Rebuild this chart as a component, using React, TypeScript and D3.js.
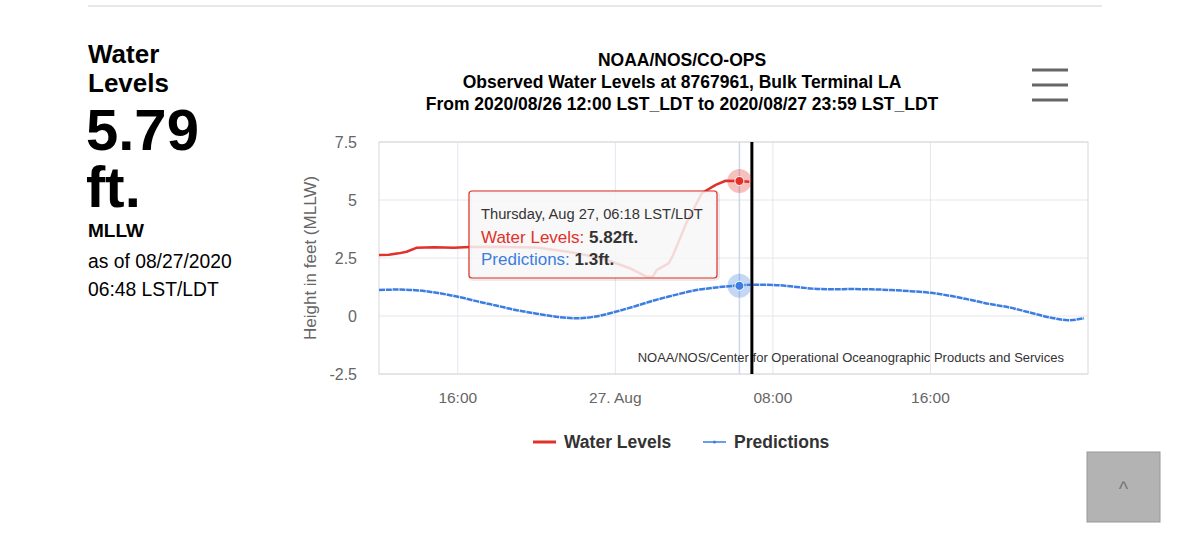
import React from "react";
import * as d3 from "d3";

const parse = d3.timeParse("%Y-%m-%d %H:%M");

// Observed water levels (ft, MLLW)
const wlTimes = [
  "2020-08-26 12:00", "2020-08-26 12:30", "2020-08-26 13:00", "2020-08-26 13:24",
  "2020-08-26 13:54", "2020-08-26 14:48", "2020-08-26 15:48", "2020-08-26 16:36",
  "2020-08-26 18:06", "2020-08-26 20:00", "2020-08-26 21:36", "2020-08-26 23:18",
  "2020-08-27 00:42", "2020-08-27 01:36", "2020-08-27 01:54", "2020-08-27 02:06",
  "2020-08-27 02:42", "2020-08-27 02:54", "2020-08-27 03:36", "2020-08-27 04:24",
  "2020-08-27 05:06", "2020-08-27 05:36", "2020-08-27 06:18", "2020-08-27 06:48",
];
const wlValues = [
  2.63, 2.64, 2.7, 2.77,
  2.94, 2.96, 2.94, 2.97,
  2.98, 2.95, 2.77, 2.5,
  2.07, 1.69, 1.7, 1.98,
  2.27, 2.56, 4.0, 5.3,
  5.65, 5.83, 5.82, 5.79,
];

// Predictions (ft, MLLW)
const predTimes = [
  "2020-08-26 12:00", "2020-08-26 13:00", "2020-08-26 14:00", "2020-08-26 15:00",
  "2020-08-26 16:00", "2020-08-26 17:00", "2020-08-26 18:00", "2020-08-26 19:00",
  "2020-08-26 20:00", "2020-08-26 21:00", "2020-08-26 22:00", "2020-08-26 23:00",
  "2020-08-27 00:00", "2020-08-27 01:00", "2020-08-27 02:00", "2020-08-27 03:00",
  "2020-08-27 04:00", "2020-08-27 05:00", "2020-08-27 06:00", "2020-08-27 07:00",
  "2020-08-27 08:00", "2020-08-27 09:00", "2020-08-27 10:00", "2020-08-27 11:00",
  "2020-08-27 12:00", "2020-08-27 13:00", "2020-08-27 14:00", "2020-08-27 15:00",
  "2020-08-27 16:00", "2020-08-27 17:00", "2020-08-27 18:00", "2020-08-27 19:00",
  "2020-08-27 20:00", "2020-08-27 21:00", "2020-08-27 22:00", "2020-08-27 23:00",
  "2020-08-27 23:48",
];
const predValues = [
  1.12, 1.14, 1.1, 0.99,
  0.83, 0.63, 0.44, 0.25,
  0.1, -0.03, -0.1, -0.02,
  0.18, 0.42, 0.68, 0.9,
  1.1, 1.22, 1.3, 1.35,
  1.34, 1.27, 1.18, 1.15,
  1.16, 1.15, 1.12, 1.07,
  1.0, 0.87, 0.7, 0.52,
  0.37, 0.16, -0.05, -0.18,
  -0.1,
];

const yTicks = [-2.5, 0, 2.5, 5, 7.5];
const yTickLabels = ["-2.5", "0", "2.5", "5", "7.5"];
const xTickTimes = ["2020-08-26 16:00", "2020-08-27 00:00", "2020-08-27 08:00", "2020-08-27 16:00"];
const xTickLabels = ["16:00", "27. Aug", "08:00", "16:00"];
const domainStart = "2020-08-26 12:00";
const domainEnd = "2020-08-28 00:00";
const hoverTime = "2020-08-27 06:18";
const hoverWL = 5.82;
const hoverPred = 1.3;
const nowTime = "2020-08-27 06:56";

const titleLines = [
  "NOAA/NOS/CO-OPS",
  "Observed Water Levels at 8767961, Bulk Terminal LA",
  "From 2020/08/26 12:00 LST_LDT to 2020/08/27 23:59 LST_LDT",
];

const RED = "#e2302a";
const BLUE = "#3b7de0";
const FONT = "'Liberation Sans', Arial, Helvetica, sans-serif";

export default function App() {
  const left = 379, right = 1088, top = 142, bottom = 374;
  const x = d3.scaleTime().domain([parse(domainStart)!, parse(domainEnd)!]).range([left, right]);
  const y = d3.scaleLinear().domain([-2.5, 7.5]).range([bottom, top]);

  const wlData = wlTimes.map((t, i) => ({ t: parse(t)!, v: wlValues[i] }));
  const predData = predTimes.map((t, i) => ({ t: parse(t)!, v: predValues[i] }));

  const wlLine = d3.line<{ t: Date; v: number }>().x(d => x(d.t)).y(d => y(d.v)).curve(d3.curveLinear);
  const predLine = d3.line<{ t: Date; v: number }>().x(d => x(d.t)).y(d => y(d.v)).curve(d3.curveMonotoneX);

  const hx = x(parse(hoverTime)!);
  const nx = x(parse(nowTime)!);

  const tipX = 469, tipY = 191, tipW = 248, tipH = 87;

  return (
    <svg width={1200} height={554} style={{ position: "absolute", left: 0, top: 0, background: "#fff" }} fontFamily={FONT}>
      <rect x={0} y={0} width={1200} height={554} fill="#fff" />
      {/* top separator */}
      <line x1={88} x2={1102} y1={6} y2={6} stroke="#e8e8e8" strokeWidth={2} />

      {/* left panel */}
      <g fill="#000">
        <text x={88} y={63} fontSize={26} fontWeight="bold">Water</text>
        <text x={88} y={92} fontSize={26} fontWeight="bold">Levels</text>
        <text x={86} y={150} fontSize={58} fontWeight="bold">5.79</text>
        <text x={86} y={207} fontSize={58} fontWeight="bold">ft.</text>
        <text x={88} y={237} fontSize={19} fontWeight="bold">MLLW</text>
        <text x={88} y={268} fontSize={19.3}>as of 08/27/2020</text>
        <text x={88} y={296} fontSize={19.3}>06:48 LST/LDT</text>
      </g>

      {/* title */}
      {titleLines.map((t, i) => (
        <text key={i} x={682} y={66 + i * 22} textAnchor="middle" fontSize={17.5} fontWeight="bold" fill="#000">{t}</text>
      ))}

      {/* hamburger */}
      {[70, 85, 100].map((yy, i) => (
        <line key={i} x1={1032} x2={1068} y1={yy} y2={yy} stroke="#666" strokeWidth={3} />
      ))}

      {/* grid */}
      {yTicks.map((t, i) => (
        <line key={"gy" + i} x1={left} x2={right} y1={y(t)} y2={y(t)} stroke="#e6e6e6" strokeWidth={1} />
      ))}
      {xTickTimes.map((t, i) => (
        <line key={"gx" + i} x1={x(parse(t)!)} x2={x(parse(t)!)} y1={top} y2={bottom} stroke="#e3e7ef" strokeWidth={1} />
      ))}
      <rect x={left} y={top} width={right - left} height={bottom - top} fill="none" stroke="#d8d8d8" strokeWidth={1} />

      {/* crosshair */}
      <line x1={hx} x2={hx} y1={top} y2={bottom} stroke="#ccd6eb" strokeWidth={1.5} />

      {/* y axis labels */}
      {yTicks.map((t, i) => (
        <text key={"yl" + i} x={357} y={y(t)} dy="0.35em" textAnchor="end" fontSize={16} fill="#666">{yTickLabels[i]}</text>
      ))}
      <text transform={`translate(316,${(top + bottom) / 2}) rotate(-90)`} textAnchor="middle" fontSize={17} fill="#666">
        Height in feet (MLLW)
      </text>

      {/* x axis labels */}
      {xTickTimes.map((t, i) => (
        <text key={"xl" + i} x={x(parse(t)!)} y={403} textAnchor="middle" fontSize={15.5} fill="#666">{xTickLabels[i]}</text>
      ))}

      {/* series */}
      <path d={predLine(predData) || ""} fill="none" stroke={BLUE} strokeWidth={2.5} strokeDasharray="6 0.8" />
      <path d={wlLine(wlData) || ""} fill="none" stroke={RED} strokeWidth={2.5} strokeLinejoin="round" />

      {/* credit */}
      <text x={1064} y={362} textAnchor="end" fontSize={13} fill="#333">
        NOAA/NOS/Center for Operational Oceanographic Products and Services
      </text>

      {/* now line */}
      <line x1={nx} x2={nx} y1={top} y2={bottom} stroke="#000" strokeWidth={3} />

      {/* hover markers */}
      <circle cx={hx} cy={y(hoverWL)} r={12} fill={RED} fillOpacity={0.3} />
      <circle cx={hx} cy={y(hoverWL)} r={4.5} fill={RED} stroke="#fff" strokeWidth={1} />
      <circle cx={hx} cy={y(hoverPred)} r={12} fill={BLUE} fillOpacity={0.3} />
      <circle cx={hx} cy={y(hoverPred)} r={4.5} fill={BLUE} stroke="#fff" strokeWidth={1} />

      {/* tooltip */}
      <rect x={tipX + 1} y={tipY + 1} width={tipW} height={tipH} rx={3} fill="none" stroke="#000" strokeOpacity={0.08} strokeWidth={4} />
      <rect x={tipX} y={tipY} width={tipW} height={tipH} rx={3} fill="#f7f7f7" fillOpacity={0.85} stroke={RED} strokeWidth={1.2} />
      <text x={tipX + 12} y={tipY + 28} fontSize={14.7} fill="#333">Thursday, Aug 27, 06:18 LST/LDT</text>
      <text x={tipX + 12} y={tipY + 52} fontSize={17}>
        <tspan fill={RED}>Water Levels: </tspan>
        <tspan fill="#333" fontWeight="bold">5.82ft.</tspan>
      </text>
      <text x={tipX + 12} y={tipY + 74} fontSize={17}>
        <tspan fill={BLUE}>Predictions: </tspan>
        <tspan fill="#333" fontWeight="bold">1.3ft.</tspan>
      </text>

      {/* legend */}
      <line x1={533} x2={556} y1={442} y2={442} stroke={RED} strokeWidth={3} />
      <text x={564} y={448} fontSize={17.5} fontWeight="bold" fill="#333">Water Levels</text>
      <line x1={703} x2={726} y1={442} y2={442} stroke={BLUE} strokeWidth={1.5} />
      <circle cx={714.5} cy={442} r={1.5} fill={BLUE} />
      <text x={734} y={448} fontSize={17.5} fontWeight="bold" fill="#333">Predictions</text>

      {/* back to top button */}
      <rect x={1087} y={452} width={73} height={70} fill="#b3b3b3" stroke="#999" strokeWidth={1} />
      <text x={1123.5} y={496} textAnchor="middle" fontSize={20} fill="#777">^</text>
    </svg>
  );
}
